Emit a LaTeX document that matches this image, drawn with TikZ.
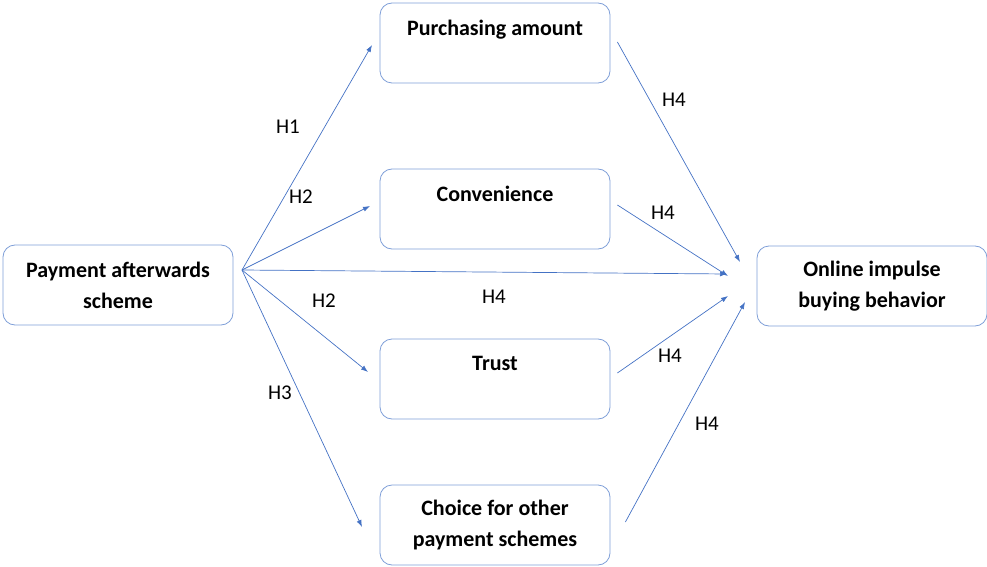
\documentclass[tikz,border=0pt]{standalone}
\usepackage{fontspec}
\setmainfont{Carlito}
\usetikzlibrary{arrows.meta, positioning, calc}
\definecolor{linkblue}{HTML}{4472C4}
\definecolor{boxblue}{HTML}{7F9FD8}

\begin{document}
\begin{tikzpicture}[
  x=1pt, y=-1pt,
  construct/.style={
    rectangle, draw=boxblue, line width=0.8pt, rounded corners=12pt, fill=white,
    minimum width=230pt, minimum height=80pt, align=center, inner sep=2pt,
    font=\fontsize{22}{31}\selectfont\bfseries
  },
  path/.style={-{Latex[length=7pt, width=5pt]}, draw=linkblue, line width=0.7pt},
  hyp/.style={font=\fontsize{21}{24}\selectfont, inner sep=0pt}
]
\useasboundingbox (0,0) rectangle (987,567);

% ----------------- CONSTRUCTS -----------------
\node[construct] (pay) at (118,285) {Payment afterwards\\scheme};
\node[construct] (amt) at (495,43) {Purchasing amount\\\mbox{}};
\node[construct] (conv) at (495,209) {Convenience\\\mbox{}};
\node[construct] (trust) at (495,379) {Trust\\\mbox{}};
\node[construct] (choice) at (495,525) {Choice for other\\payment schemes};
\node[construct] (oib) at (872,286) {Online impulse\\buying behavior};

% ----------------- ARROW END POINTS -----------------
\coordinate (fan) at (242,270);
\coordinate (in_amt) at (372,45);
\coordinate (in_conv) at (370,206);
\coordinate (in_trust) at (368,372);
\coordinate (in_choice) at (362,527);
\coordinate (out_amt) at (740,262);
\coordinate (out_conv) at (728,276);
\coordinate (out_pay) at (727,274);
\coordinate (out_trust) at (728,296);
\coordinate (out_choice) at (745,302);

% ----------------- HYPOTHESES -----------------
\draw[path] (fan) -- (in_amt);
\draw[path] (fan) -- (in_conv);
\draw[path] (fan) -- (out_pay);
\draw[path] (fan) -- (in_trust);
\draw[path] (fan) -- (in_choice);

\draw[path] ($(amt.east)+(7,-1)$) -- (out_amt);
\draw[path] ($(conv.east)+(7,-4)$) -- (out_conv);
\draw[path] ($(trust.east)+(7,-6)$) -- (out_trust);
\draw[path] ($(choice.east)+(15,-3)$) -- (out_choice);

% ----------------- LABELS -----------------
\node[hyp] (h1) at (288,127) {H1};
\node[hyp] (h2a) at (301,197) {H2};
\node[hyp] (h2b) at (324,301) {H2};
\node[hyp] (h3) at (280,393) {H3};
\node[hyp] (h4a) at (494,297) {H4};
\node[hyp] (h4b) at (674,100) {H4};
\node[hyp] (h4c) at (663,213) {H4};
\node[hyp] (h4d) at (670,356) {H4};
\node[hyp] (h4e) at (707,424) {H4};

\end{tikzpicture}
\end{document}
